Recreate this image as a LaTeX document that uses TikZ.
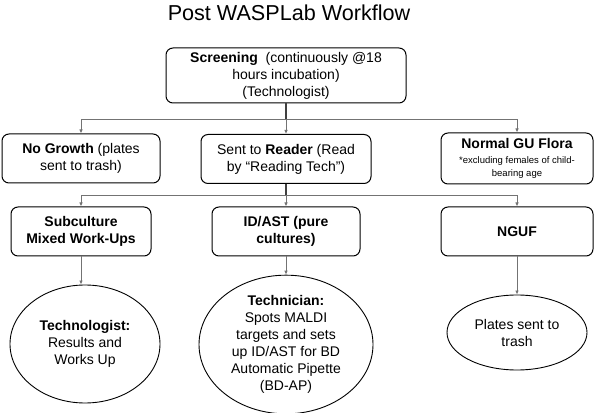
\documentclass[tikz,border=0pt]{standalone}
\usepackage{fontspec}
\setmainfont{Liberation Sans}
\usetikzlibrary{shapes.geometric,arrows.meta}
\begin{document}
\begin{tikzpicture}[x=1pt,y=1pt,
 box/.style={draw=black, line width=1pt, rounded corners=7pt, align=center, inner sep=0pt, font=\fontsize{14}{17}\selectfont},
 oval/.style={draw=black, line width=0.9pt, ellipse, align=center, inner sep=0pt, font=\fontsize{14}{17}\selectfont},
 conn/.style={draw=black!55, line width=0.8pt},
 arr/.style={conn, -{Latex[length=4pt,width=3.5pt]}},
]
\useasboundingbox (0,0) rectangle (596,412);
\node (title) at (289,399) {\fontsize{21.6}{25}\selectfont Post WASPLab Workflow};

\node[box, minimum width=240pt, minimum height=55pt] (scr) at (286,336.5)
  {\textbf{Screening}\ \ (continuously @18\\hours incubation)\\(Technologist)};

\node[box, minimum width=158pt, minimum height=49pt] (ng) at (81,253.5)
  {\textbf{No Growth} (plates\\sent to trash)};
\node[box, minimum width=170pt, minimum height=49pt] (rd) at (286,253)
  {Sent to \textbf{Reader} (Read\\by “Reading Tech”)};
\node[box, minimum width=152pt, minimum height=51pt] (gu) at (517,253.5)
  {\textbf{Normal GU Flora}\\[-2pt]{\fontsize{9.5}{12}\selectfont *excluding females of child-}\\[-4pt]{\fontsize{9.5}{12}\selectfont bearing age}};

\node[box, minimum width=140pt, minimum height=49pt] (sub) at (81,180.5)
  {\textbf{Subculture}\\\textbf{Mixed Work-Ups}};
\node[box, minimum width=148pt, minimum height=49pt] (id) at (286,180.5)
  {\textbf{ID/AST (pure}\\\textbf{cultures)}};
\node[box, minimum width=152pt, minimum height=49pt] (nguf) at (517,180.5)
  {\textbf{NGUF}};

\node[oval, minimum width=150pt, minimum height=118pt] (e1) at (85,68)
  {\textbf{Technologist:}\\Results and\\Works Up};
\node[oval, minimum width=174pt, minimum height=125pt] (e2) at (286,67.5)
  {\textbf{Technician:}\\Spots MALDI\\targets and sets\\up ID/AST for BD\\Automatic Pipette\\(BD-AP)};
\node[oval, minimum width=140pt, minimum height=75pt] (e3) at (517,79.5)
  {Plates sent to\\trash};

\coordinate (b1) at (286,293);
\coordinate (b2) at (286,217);
\draw[conn, line width=1.1pt, draw=black!75] (scr.south) -- (b1);
\draw[arr] (b1) -| (ng.north);
\draw[arr] (b1) -- (rd.north);
\draw[arr] (b1) -| (gu.north);
\draw[conn, line width=1.1pt, draw=black!75] (rd.south) -- (b2);
\draw[arr] (b2) -| (sub.north);
\draw[arr] (b2) -- (id.north);
\draw[arr] (b2) -| (nguf.north);

\draw[arr] (sub.south) -- (sub.south |- e1.north);
\draw[arr] (id.south) -- (e2.north);
\draw[arr] (nguf.south) -- (e3.north);
\end{tikzpicture}
\end{document}
